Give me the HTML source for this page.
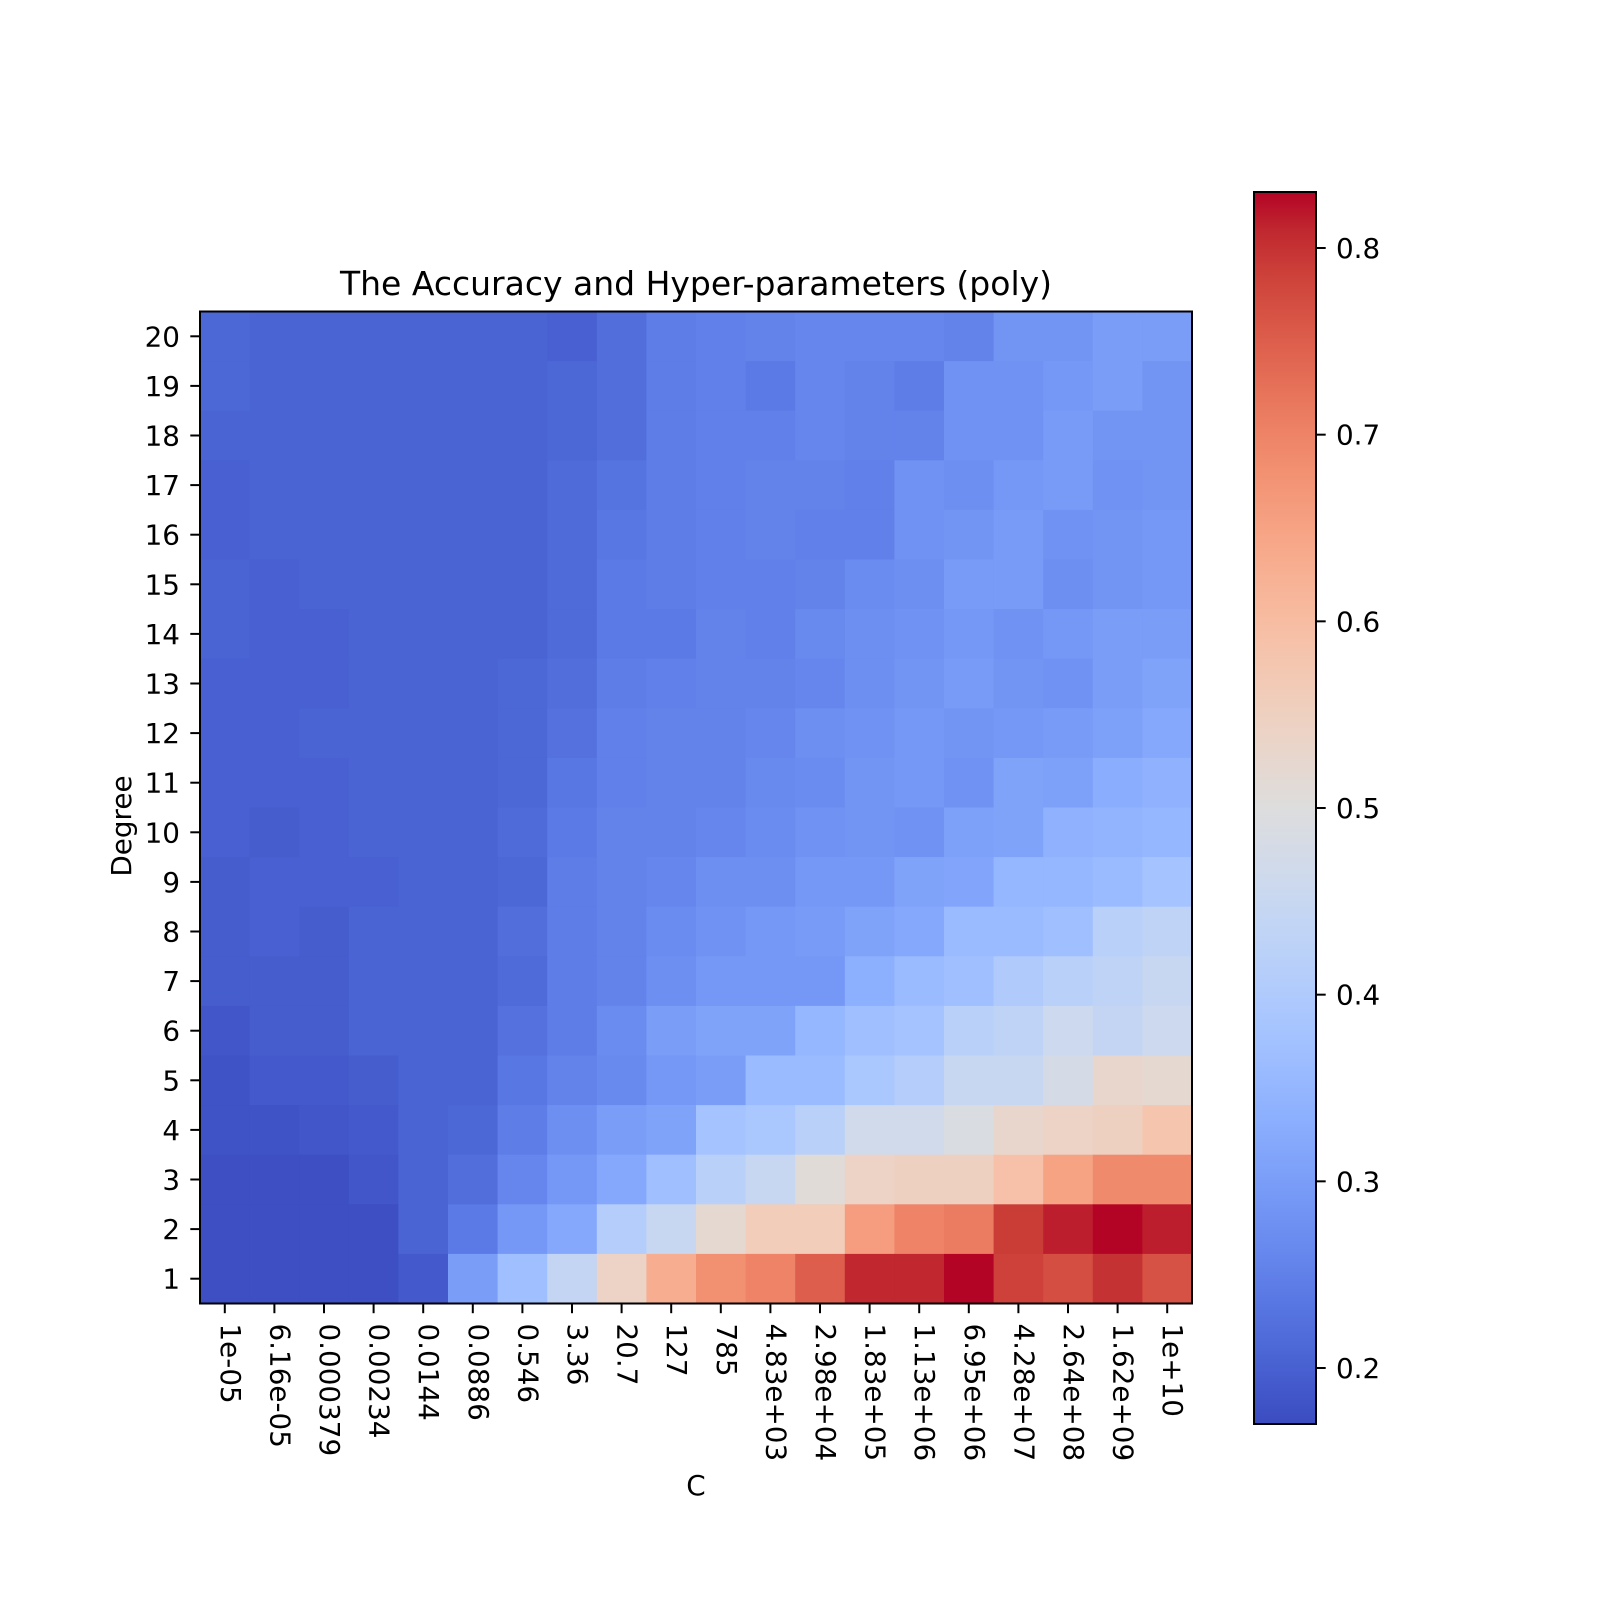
<!DOCTYPE html>
<html><head><meta charset="utf-8"><style>
body{margin:0;background:#fff}
svg{display:block;font-family:"DejaVu Sans","Liberation Sans",sans-serif}
</style></head><body>
<svg id="chart" width="1600" height="1600" viewBox="0 0 1600 1600" xmlns="http://www.w3.org/2000/svg">
<defs><linearGradient id="cw" x1="0" y1="1" x2="0" y2="0"></linearGradient></defs>
<rect width="1600" height="1600" fill="#fff"/>
<text x="696" y="295" font-size="33" text-anchor="middle">The Accuracy and Hyper-parameters (poly)</text>
<g id="cells"></g><g id="axes"></g>
</svg>
<script>
const xLabels=["1e-05","6.16e-05","0.000379","0.00234","0.0144","0.0886","0.546","3.36","20.7","127","785","4.83e+03","2.98e+04","1.83e+05","1.13e+06","6.95e+06","4.28e+07","2.64e+08","1.62e+09","1e+10"];
const yLabels=["20","19","18","17","16","15","14","13","12","11","10","9","8","7","6","5","4","3","2","1"];
const cbTicks=[0.2,0.3,0.4,0.5,0.6,0.7,0.8];
const row20=[.21,.205,.205,.205,.205,.205,.205,.20,.22,.245,.25,.255,.26,.26,.26,.255,.285,.285,.30,.30];
const row19=[.21,.205,.205,.205,.205,.205,.205,.21,.22,.245,.25,.24,.26,.255,.245,.28,.28,.29,.30,.285];
const row18=[.205,.205,.205,.205,.205,.205,.205,.21,.22,.245,.25,.25,.26,.255,.255,.28,.28,.295,.285,.285];
const row17=[.20,.205,.205,.205,.205,.205,.205,.215,.23,.245,.25,.255,.255,.25,.28,.275,.29,.295,.28,.285];
const row16=[.20,.205,.205,.205,.205,.205,.205,.215,.235,.245,.25,.255,.25,.25,.28,.285,.295,.28,.285,.29];
const row15=[.205,.20,.205,.205,.205,.205,.205,.215,.24,.245,.25,.25,.255,.27,.275,.295,.295,.275,.285,.29];
const row14=[.205,.20,.20,.205,.205,.205,.205,.215,.24,.24,.255,.25,.265,.275,.28,.29,.28,.29,.30,.30];
const row13=[.20,.20,.20,.205,.205,.205,.21,.22,.245,.25,.255,.255,.26,.275,.285,.295,.285,.28,.30,.31];
const row12=[.20,.20,.205,.205,.205,.205,.21,.225,.25,.255,.255,.26,.275,.28,.29,.285,.29,.295,.305,.32];
const row11=[.20,.20,.20,.205,.205,.205,.21,.235,.25,.255,.255,.265,.27,.285,.29,.28,.31,.305,.33,.34];
const row10=[.20,.195,.20,.205,.205,.205,.215,.24,.255,.255,.26,.27,.28,.285,.28,.305,.31,.34,.345,.35];
const row9=[.195,.20,.20,.20,.205,.205,.21,.245,.255,.26,.275,.275,.29,.29,.31,.315,.35,.35,.36,.38];
const row8=[.195,.20,.195,.205,.205,.205,.22,.245,.255,.27,.28,.29,.295,.31,.32,.36,.36,.37,.42,.43];
const row7=[.195,.195,.195,.205,.205,.205,.215,.245,.255,.275,.29,.29,.29,.335,.36,.37,.40,.42,.43,.45];
const row6=[.185,.195,.195,.205,.205,.205,.225,.245,.27,.30,.31,.31,.35,.37,.38,.42,.43,.46,.44,.46];
const row5=[.18,.19,.19,.195,.205,.205,.235,.255,.265,.29,.30,.36,.36,.39,.41,.45,.45,.48,.53,.52];
const row4=[.18,.18,.185,.19,.205,.21,.245,.275,.30,.31,.38,.39,.42,.47,.47,.49,.53,.54,.55,.58];
const row3=[.175,.175,.175,.185,.205,.22,.26,.29,.32,.37,.42,.45,.51,.54,.55,.55,.59,.65,.69,.69];
const row2=[.175,.175,.175,.175,.205,.24,.29,.32,.41,.45,.52,.56,.56,.66,.70,.71,.79,.815,.83,.815];
const row1=[.175,.175,.175,.175,.19,.30,.37,.44,.54,.63,.68,.70,.75,.81,.81,.83,.785,.77,.80,.765];
const grid=[row20,row19,row18,row17,row16,row15,row14,row13,row12,row11,row10,row9,row8,row7,row6,row5,row4,row3,row2,row1];
const vmin=0.17,vmax=0.83;
const CW=[[59,76,192],[68,90,204],[77,104,215],[87,117,225],[98,130,234],[108,142,241],[119,154,247],[130,165,251],[141,176,254],[152,185,255],[163,194,255],[174,201,253],[184,208,249],[194,213,244],[204,217,238],[213,219,230],[221,221,221],[229,216,209],[236,211,197],[241,204,185],[245,196,173],[247,187,160],[247,177,148],[247,166,135],[244,154,123],[241,141,111],[236,127,99],[229,112,88],[222,96,77],[213,80,66],[203,62,56],[192,40,47],[180,4,38]];
function cmap(t){t=Math.max(0,Math.min(1,t));const p=t*32,i=Math.min(31,Math.floor(p)),f=p-i;const a=CW[i],b=CW[i+1];return `rgb(${a.map((v,k)=>Math.round(v+(b[k]-v)*f)).join(',')})`;}
const NS="http://www.w3.org/2000/svg";
const L=200,T=311.5,W=992,H=992,n=20,cw=W/n,ch=H/n;
const xPos=i=>L+(i+0.5)*cw, yPos=j=>T+(j+0.5)*ch;
function mk(tag,attrs,parent){const e=document.createElementNS(NS,tag);for(const k in attrs)e.setAttribute(k,attrs[k]);parent.appendChild(e);return e;}
const cells=document.getElementById('cells'),axes=document.getElementById('axes');
grid.forEach((row,j)=>row.forEach((v,i)=>{
 const r=mk('rect',{x:L+i*cw,y:T+j*ch,width:cw+0.6,height:ch+0.6,fill:cmap((v-vmin)/(vmax-vmin))},cells);
 
 
}));
const fr=mk('rect',{x:L,y:T,width:W,height:H,fill:'none',stroke:'#000','stroke-width':2},axes);


yLabels.forEach((lab,j)=>{
 const y=yPos(j);
 mk('line',{x1:L,x2:L-9.7,y1:y,y2:y,stroke:'#000','stroke-width':2},axes);
 const t=mk('text',{x:180,y:y+10,'font-size':27.8,'text-anchor':'end'},axes);t.textContent=lab;
 
 
});
xLabels.forEach((lab,i)=>{
 const x=xPos(i);
 mk('line',{x1:x,x2:x,y1:T+H,y2:T+H+9.7,stroke:'#000','stroke-width':2},axes);
 const tx=x-4;
 const t=mk('text',{x:tx,y:T+H+20,'font-size':27.8,transform:`rotate(90 ${tx} ${T+H+20})`},axes);t.textContent=lab;
 
 
});
const xl=mk('text',{x:696,y:1495,'font-size':27.8,'text-anchor':'middle'},axes);xl.textContent='C';


const yl=mk('text',{x:131,y:826,'font-size':27.8,'text-anchor':'middle',transform:'rotate(-90 131 826)'},axes);yl.textContent='Degree';


const grad=document.getElementById('cw');
CW.forEach((c,k)=>mk('stop',{offset:(k/32*100)+'%','stop-color':`rgb(${c.join(',')})`},grad));
const cbL=1254,cbT=192,cbW=62,cbH=1232;
const cb=mk('rect',{x:cbL,y:cbT,width:cbW,height:cbH,fill:'url(#cw)',stroke:'#000','stroke-width':2},axes);


const cbY=v=>cbT+cbH-(v-vmin)/(vmax-vmin)*cbH;
cbTicks.forEach(v=>{
 const y=cbY(v);
 mk('line',{x1:cbL+cbW,x2:cbL+cbW+9.7,y1:y,y2:y,stroke:'#000','stroke-width':2},axes);
 const t=mk('text',{x:cbL+cbW+20,y:y+10,'font-size':27.8},axes);t.textContent=v.toFixed(1);
 
 
});
</script>
</body></html>
